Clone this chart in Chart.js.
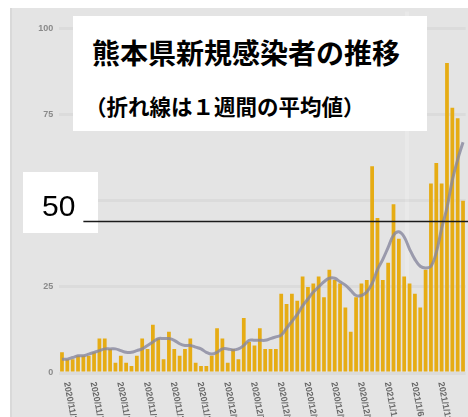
<!DOCTYPE html>
<html><head><meta charset="utf-8">
<script src="https://cdn.jsdelivr.net/npm/chart.js@4"></script>
<style>
html,body{margin:0;padding:0;width:468px;height:417px;overflow:hidden;background:#fff;}
#bg{position:absolute;left:10px;top:8px;width:458px;height:409px;background:#e4e4e4;border-left:2px solid #d9d9d9;box-sizing:border-box;}
#c{position:absolute;left:0;top:0;}
#titlebox{position:absolute;left:73px;top:16px;width:354px;height:115px;background:#fff;}
.txt{position:absolute;white-space:nowrap;color:#000;}
#t1{left:92px;top:33px;font:bold 28px "Noto Sans CJK JP";line-height:38px;}
#t2{left:85px;top:91px;font:bold 21.5px "Noto Sans CJK JP";line-height:30px;}
#t50{left:42px;top:186px;font:30px "Liberation Sans";line-height:40px;}
</style></head>
<body>
<div id="bg"></div>
<canvas id="c" width="468" height="417"></canvas>
<div id="titlebox"></div>
<div class="txt" id="t1">熊本県新規感染者の推移</div>
<div class="txt" id="t2">（折れ線は１週間の平均値）</div>
<div class="txt" id="t50">50</div>
<script>
const dates = [
'2020/11/1','2020/11/2','2020/11/3','2020/11/4','2020/11/5','2020/11/6','2020/11/7','2020/11/8','2020/11/9','2020/11/10',
'2020/11/11','2020/11/12','2020/11/13','2020/11/14','2020/11/15','2020/11/16','2020/11/17','2020/11/18','2020/11/19','2020/11/20',
'2020/11/21','2020/11/22','2020/11/23','2020/11/24','2020/11/25','2020/11/26','2020/11/27','2020/11/28','2020/11/29','2020/11/30',
'2020/12/1','2020/12/2','2020/12/3','2020/12/4','2020/12/5','2020/12/6','2020/12/7','2020/12/8','2020/12/9','2020/12/10',
'2020/12/11','2020/12/12','2020/12/13','2020/12/14','2020/12/15','2020/12/16','2020/12/17','2020/12/18','2020/12/19','2020/12/20',
'2020/12/21','2020/12/22','2020/12/23','2020/12/24','2020/12/25','2020/12/26','2020/12/27','2020/12/28','2020/12/29','2020/12/30',
'2020/12/31','2021/1/1','2021/1/2','2021/1/3','2021/1/4','2021/1/5','2021/1/6','2021/1/7','2021/1/8','2021/1/9',
'2021/1/10','2021/1/11','2021/1/12','2021/1/13','2021/1/14','2021/1/15'];

const newCases = [
6,4,4,5,5,5,6,10,10,7,
3,5,3,2,5,10,7,14,10,4,
12,7,5,7,10,3,2,2,5,13,
10,3,7,4,16,9,8,13,7,7,
7,23,20,23,21,28,25,26,28,22,
30,27,26,19,12,22,26,27,60,45,
27,32,49,39,28,26,23,19,30,55,
61,55,90,77,74,50];

const weeklyAvg = [
4,4,4.5,5,5,5.5,6,6.5,7,7,
7,6.5,6,6,6.5,7,8,9,10,10,
10,9.5,8.5,8,8,7.5,7,6,5.5,6,
7,7,6.7,7,8,9.5,9.5,9.5,9.5,10,
10.5,11,13,15,17,19.5,21.5,23.5,25,26.5,
27.5,27.5,26.5,25.5,24,22.5,22.5,23.5,26,30,
33,36.5,40,41,39.5,36,33,31,30.5,31,
35,42,48,56,62,67];

const yTicks = [0,25,50,75,100];
const refLineValue = 44;   // where the hand-drawn "50" line sits in the picture
const refLineStart = 4;    // category index where that line begins

const overlay = {
  id:'overlay',
  beforeDatasetsDraw(chart){
    const {ctx} = chart;
    ctx.save();
    ctx.fillStyle = '#ffffff';
    ctx.fillRect(23,172,75,61);
    ctx.restore();
  },
  afterDatasetsDraw(chart){
    const {ctx, scales:{x,y}, chartArea} = chart;
    ctx.save();
    const yy = Math.round(y.getPixelForValue(refLineValue)) + 0.5;
    ctx.strokeStyle = '#1a1a1a';
    ctx.lineWidth = 1.4;
    ctx.beginPath();
    ctx.moveTo(x.getPixelForValue(refLineStart), yy);
    ctx.lineTo(chart.width, yy);
    ctx.stroke();
    ctx.fillStyle = '#666';
    ctx.font = 'bold 9px "Liberation Sans"';
    ctx.textAlign = 'left';
    ctx.textBaseline = 'middle';
    dates.forEach((d,i)=>{
      if (i % 5 !== 1) return;
      const px = x.getPixelForValue(i);
      ctx.save();
      ctx.translate(px-1, chartArea.bottom + 9);
      ctx.rotate(79*Math.PI/180);
      ctx.fillText(d,0,0);
      ctx.restore();
    });
    ctx.restore();
  }
};

new Chart(document.getElementById('c'), {
  type:'bar',
  data:{
    labels:dates,
    datasets:[
      {type:'line', data:weeklyAvg, borderColor:'rgba(135,135,158,0.8)', borderWidth:3, pointRadius:0, tension:0.4, order:0},
      {type:'bar', data:newCases, backgroundColor:'#e6ac14', barPercentage:0.7, categoryPercentage:1, order:1}
    ]
  },
  options:{
    responsive:false, animation:false, devicePixelRatio:1,
    layout:{padding:{top:10.75,bottom:44,left:0,right:2.3}},
    plugins:{legend:{display:false}, tooltip:{enabled:false}},
    scales:{
      x:{offset:true, ticks:{display:false},
         grid:{drawTicks:false, offset:true, lineWidth:4,
               color:(c)=> c.index===65 ? 'rgba(255,255,255,0.2)' : 'rgba(0,0,0,0)'},
         border:{display:false}},
      y:{min:0, max:105,
         afterBuildTicks(s){ s.ticks = yTicks.map(v=>({value:v})); },
         ticks:{color:'#8a8a8a', font:{size:9, family:'Liberation Sans', weight:'bold'}, padding:6},
         grid:{drawTicks:false, color:'rgba(0,0,0,0.04)', lineWidth:3},
         border:{display:false},
         afterFit(s){ s.width = 59.3; }}
    }
  },
  plugins:[overlay]
});
</script>
</body></html>
